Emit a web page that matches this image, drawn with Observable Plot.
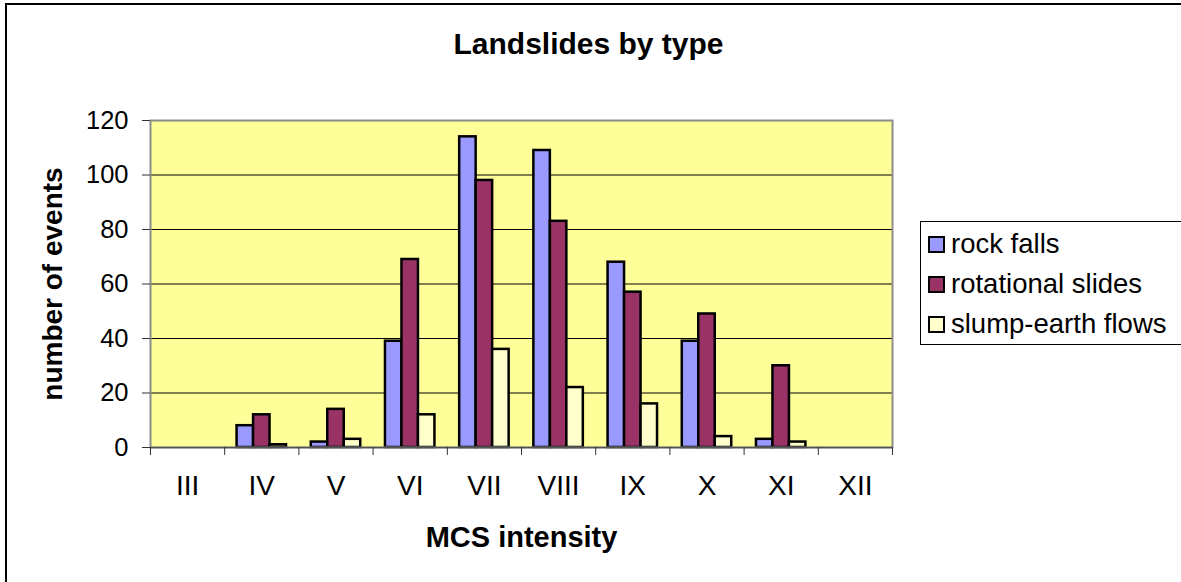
<!DOCTYPE html>
<html>
<head>
<meta charset="utf-8">
<script src="https://cdn.jsdelivr.net/npm/d3@7"></script>
<script src="https://cdn.jsdelivr.net/npm/@observablehq/plot@0.6"></script>
<style>
  html, body { margin: 0; padding: 0; background: #fff; }
  body { width: 1181px; height: 582px; position: relative; overflow: hidden; font-family: "Liberation Sans", Arial, sans-serif; }
  #outer { position: absolute; left: 5px; top: 3px; width: 1300px; height: 700px; border-left: 2px solid #000; border-top: 2px solid #000; }
  #chart { position: absolute; left: 0; top: 0; }
  #legend { position: absolute; left: 920px; top: 221px; width: 290px; height: 124px; border: 1.5px solid #000; background: #fff; box-sizing: border-box; padding-top: 2px; }
  .item { height: 40px; display: flex; align-items: center; font-size: 27.5px; color: #000; white-space: nowrap; }
  .sw { width: 13px; height: 13px; border: 2px solid #000; margin-left: 7px; margin-right: 6px; flex: none; }
</style>
</head>
<body>
<div id="outer"></div>
<div id="chart"></div>
<div id="legend"></div>
<script>
const categories = ["III", "IV", "V", "VI", "VII", "VIII", "IX", "X", "XI", "XII"];
const seriesNames = ["rock falls", "rotational slides", "slump-earth flows"];
const rockFalls = [0, 8, 2, 39, 114, 109, 68, 39, 3, 0];
const rotationalSlides = [0, 12, 14, 69, 98, 83, 57, 49, 30, 0];
const slumpEarthFlows = [0, 1, 3, 12, 36, 22, 16, 4, 2, 0];
const seriesColors = ["#9999FF", "#993366", "#FFFFCC"];
const yTicks = [0, 20, 40, 60, 80, 100, 120];
const titleText = "Landslides by type";
const xLabel = "MCS intensity";
const yLabel = "number of events";

const seriesValues = [rockFalls, rotationalSlides, slumpEarthFlows];
const rows = seriesValues.flatMap((vals, j) =>
  vals.map((v, i) => ({category: categories[i], series: seriesNames[j], value: v, i, j}))
).filter(d => d.value > 0);

// layout within each category slot: 1/6 gap on each side, three bars of 2/9 each
const groupGap = 1 / 6;
const barW = 2 / 9;

const chart = Plot.plot({
  width: 1181,
  height: 582,
  marginLeft: 150,
  marginRight: 289,
  marginTop: 120,
  marginBottom: 135,
  style: {fontFamily: "'Liberation Sans', Arial, sans-serif", background: "transparent", color: "#000", overflow: "visible"},
  x: {type: "linear", domain: [0, categories.length], axis: null},
  y: {domain: [0, 120], axis: null},
  color: {domain: seriesNames, range: seriesColors},
  marks: [
    Plot.frame({fill: "#FFFF99"}),
    Plot.gridY({ticks: yTicks.filter(t => t > 0 && t < 120), stroke: "#000", strokeOpacity: 1, strokeWidth: 1}),
    Plot.rectY(rows, {
      x1: d => d.i + groupGap + d.j * barW,
      x2: d => d.i + groupGap + (d.j + 1) * barW,
      y1: 0,
      y2: "value",
      fill: "series",
      stroke: "#000",
      strokeWidth: 2.5
    }),
    Plot.frame({stroke: "#8c8c8c", strokeWidth: 2}),
    Plot.ruleY([0], {stroke: "#555", strokeWidth: 1.5}),
    Plot.axisY({ticks: yTicks, tickSize: 8, tickPadding: 14, fontSize: 25.5, label: null, stroke: "#333"}),
    Plot.axisX({ticks: d3.range(0, categories.length + 1), tickSize: 8, tickFormat: () => "", label: null, stroke: "#333"}),
    Plot.axisX({ticks: categories.map((c, i) => i + 0.5), tickFormat: d => categories[Math.floor(d)], tickSize: 0, tickPadding: 28, fontSize: 28, label: null}),
    Plot.text([titleText], {text: d => d, frameAnchor: "top", dx: 67, dy: -88, lineAnchor: "top", fontSize: 30, fontWeight: "bold"}),
    Plot.text([xLabel], {text: d => d, frameAnchor: "bottom", dy: 79, lineAnchor: "top", fontSize: 29, fontWeight: "bold"}),
    Plot.text([yLabel], {text: d => d, frameAnchor: "left", textAnchor: "middle", dx: -97, rotate: -90, fontSize: 28, fontWeight: "bold"})
  ]
});
document.getElementById("chart").appendChild(chart);

const legend = document.getElementById("legend");
seriesNames.forEach((name, k) => {
  const item = document.createElement("div");
  item.className = "item";
  const sw = document.createElement("span");
  sw.className = "sw";
  sw.style.background = seriesColors[k];
  const label = document.createElement("span");
  label.textContent = name;
  item.appendChild(sw);
  item.appendChild(label);
  legend.appendChild(item);
});
</script>
</body>
</html>
